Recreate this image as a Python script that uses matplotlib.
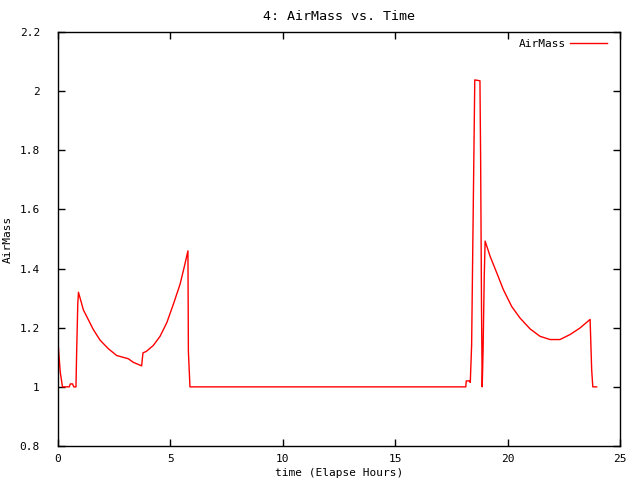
import numpy as np
import matplotlib
matplotlib.use("Agg")
import matplotlib.pyplot as plt

# elapsed hours and air mass
hours = [0.0, 0.1, 0.2, 0.3, 0.5, 0.55, 0.65, 0.7, 0.8, 0.83, 0.88, 0.91,
         1.13, 1.57, 1.87, 2.24, 2.61, 3.13, 3.35, 3.72, 3.78, 3.93, 4.24,
         4.54, 4.84, 5.13, 5.43, 5.63, 5.78, 5.80, 5.87,
         18.14, 18.16, 18.3, 18.34, 18.4, 18.44, 18.48, 18.52, 18.54, 18.77,
         18.8, 18.84, 18.87, 18.91, 18.96, 19.0, 19.22, 19.52, 19.81, 20.18,
         20.55, 21.0, 21.44, 21.89, 22.33, 22.78, 23.22, 23.67, 23.74, 23.79,
         23.96]
airmass = [1.15, 1.05, 1.0, 1.0, 1.0, 1.01, 1.01, 1.0, 1.0, 1.12, 1.28, 1.32,
           1.26, 1.194, 1.158, 1.129, 1.106, 1.095, 1.083, 1.071, 1.115, 1.12,
           1.14, 1.171, 1.217, 1.279, 1.347, 1.41, 1.46, 1.12, 1.0,
           1.0, 1.02, 1.02, 1.015, 1.142, 1.40, 1.657, 1.911, 2.038, 2.035,
           1.775, 1.26, 1.0, 1.126, 1.37, 1.493, 1.442, 1.385, 1.329, 1.272,
           1.233, 1.196, 1.171, 1.160, 1.160, 1.177, 1.199, 1.228, 1.058, 1.0,
           1.0]

xticks = [0, 5, 10, 15, 20, 25]
yticks = [0.8, 1.0, 1.2, 1.4, 1.6, 1.8, 2.0, 2.2]
ytick_labels = ["0.8", "1", "1.2", "1.4", "1.6", "1.8", "2", "2.2"]

plt.rcParams["font.family"] = "DejaVu Sans Mono"
plt.rcParams["font.size"] = 8

fig = plt.figure(figsize=(6.4, 4.8), dpi=100)
ax = fig.add_axes([58 / 640, 34 / 480, 562 / 640, 414 / 480])

ax.plot(hours, airmass, color="red", lw=1, label="AirMass")

ax.set_xlim(0, 25)
ax.set_ylim(0.8, 2.2)
ax.set_xticks(xticks)
ax.set_yticks(yticks)
ax.set_yticklabels(ytick_labels)
ax.tick_params(direction="in", top=True, right=True, length=5, width=1)
ax.tick_params(axis="x", pad=6)
ax.tick_params(axis="y", pad=13)
for s in ax.spines.values():
    s.set_linewidth(1)

ax.set_xlabel("time (Elapse Hours)", labelpad=3)
ax.set_ylabel("AirMass", labelpad=5)
ax.set_title("4: AirMass vs. Time", pad=9)

leg = ax.legend(loc="upper right", bbox_to_anchor=(1 - 5.5 / 562, 1 + 1 / 414),
                frameon=False, handlelength=3.3, handletextpad=0.4,
                markerfirst=False, borderaxespad=0.3)

fig.savefig("out.png", dpi=100)
